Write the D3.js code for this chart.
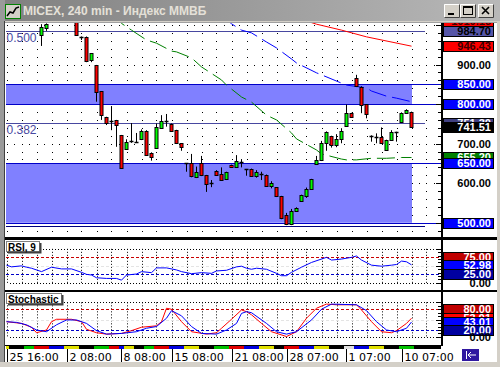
<!DOCTYPE html>
<html>
<head>
<meta charset="utf-8">
<script src="https://cdn.jsdelivr.net/npm/d3@7"></script>
<style>
body { margin: 0; background: #d4d0c8; }
svg { display: block; }
</style>
</head>
<body>
<div class="viz"></div>
<script>
const width = 500;
const height = 367;

// 4h candles, bar 0 = "25 16:00" (first bars sit above the visible range)
const opens  = [1020,1025,1035,1030,1026,1020,1018, 976, 991,1010,1018,1026,1022,1020,1016, 970, 970, 911, 899, 833,
                 767, 757, 760, 722, 688, 707, 704, 712, 733, 677, 691, 740, 757, 750, 734, 701, 650, 650, 616, 650,
                 621, 600, 631, 623, 610, 646, 640, 654, 635, 636, 619, 623, 621, 594, 590, 568, 520, 496, 530, 556,
                 568, 585, 648, 658, 701, 719, 697, 712, 745, 777, 865, 844, 799, 720, 716, 716, 684, 709, 729, 755,
                 777, 780];
const highs  = [1030,1040,1045,1038,1034,1028,1025,1002,1004,1022,1030,1034,1030,1028,1020, 971, 971, 929, 899, 833,
                 768, 795, 760, 722, 711, 752, 727, 736, 734, 678, 751, 772, 775, 751, 735, 701, 651, 674, 642, 669,
                 621, 608, 633, 640, 629, 647, 671, 661, 636, 637, 633, 629, 622, 605, 590, 568, 525, 535, 539, 571,
                 589, 611, 669, 707, 731, 720, 724, 739, 799, 778, 874, 845, 800, 721, 726, 741, 710, 734, 730, 779,
                 787, 781];
const lows   = [1012,1018,1028,1020,1015,1010,1009, 947, 985,1008,1012,1016,1014,1012, 975, 962, 906, 906, 806, 760,
                 747, 734, 692, 636, 684, 702, 702, 709, 672, 657, 690, 739, 743, 731, 699, 682, 629, 615, 613, 618,
                 578, 590, 620, 606, 608, 639, 639, 640, 619, 618, 614, 608, 592, 587, 565, 509, 494, 494, 528, 553,
                 563, 583, 646, 656, 682, 690, 691, 701, 744, 765, 843, 777, 764, 705, 701, 700, 683, 708, 705, 753,
                 776, 740];
const closes = [1025,1035,1030,1026,1020,1018,1015, 996,1002,1018,1026,1022,1020,1016, 976, 970, 909, 928, 831, 772,
                 752, 757, 747, 638, 705, 707, 704, 733, 673, 667, 743, 757, 757, 733, 701, 691, 650, 616, 629, 619,
                 597, 600, 622, 608, 628, 640, 656, 654, 635, 619, 629, 623, 594, 601, 566, 513, 497, 530, 538, 570,
                 585, 610, 659, 702, 730, 697, 712, 732, 777, 767, 844, 799, 774, 720, 716, 701, 709, 730, 729, 777,
                 784, 741.51];

// moving averages, read at a few bars
const maGreenBars = [21, 23, 25, 28, 30, 33, 34, 37, 39, 43, 44, 47, 49, 52, 54, 57, 58, 62, 63, 67, 68, 70, 73, 76, 79, 81];
const maGreenVals = [1030, 1004, 987, 962, 954, 934, 932, 917, 894, 861, 848, 818, 805, 772, 760, 727, 712, 684, 674, 661, 659, 659, 663, 663, 665, 665];
const maBlueBars = [43, 45, 47, 49, 52, 54, 57, 58, 62, 63, 67, 68, 72, 73, 76, 78, 81];
const maBlueVals = [1025, 1003, 987, 980, 957, 942, 914, 904, 879, 874, 853, 848, 841, 833, 820, 815, 806];
const maRedBars = [60, 62, 67, 72, 81];
const maRedVals = [1010, 1002, 987, 970, 946.43];

// indicators
const rsiBars = [0, 1, 3, 4, 5, 7, 9, 11, 13, 15, 16, 17, 18, 20, 22, 23, 24, 26, 27, 29, 30, 32, 34, 35, 37, 39, 41, 42, 44, 46, 47, 48, 49, 50, 52, 54, 55, 56, 57, 59, 61, 64, 65, 67, 69, 70, 71, 73, 75, 77, 78, 79, 80, 81];
const rsiVals = [52, 47, 50, 46, 43, 33, 46, 41, 41, 31, 25, 23, 15, 13, 13, 8, 23, 26, 33, 30, 44, 44, 38, 33, 27, 30, 28, 35, 37, 47, 49, 43, 40, 43, 40, 28, 21, 21, 31, 46, 60, 75, 67, 70, 75, 79, 67, 52, 49, 52, 54, 64, 62, 52.98];
const stochKBars = [0, 3, 5, 6, 8, 9, 10, 13, 15, 16, 18, 20, 23, 25, 27, 30, 31, 32, 33, 35, 37, 40, 42, 43, 45, 47, 48, 49, 51, 53, 56, 58, 60, 62, 64, 66, 70, 71, 73, 75, 77, 78, 80, 81];
const stochKVals = [44, 39, 28, 12, 20, 44, 51, 51, 44, 22, 12, 8, 10, 18, 28, 32, 44, 83, 80, 44, 15, 8, 12, 25, 51, 78, 73, 64, 39, 15, 1, 15, 54, 83, 95, 93, 93, 78, 44, 15, 12, 18, 39, 54];
const stochDBars = [0, 2, 4, 6, 8, 10, 12, 14, 16, 18, 20, 23, 26, 28, 30, 32, 33, 35, 37, 39, 42, 44, 46, 47, 48, 49, 52, 54, 56, 58, 61, 63, 65, 70, 72, 74, 76, 78, 80, 81];
const stochDVals = [44, 42, 35, 20, 15, 35, 49, 49, 39, 18, 8, 10, 15, 25, 30, 54, 76, 61, 30, 10, 8, 20, 39, 68, 73, 70, 39, 15, 8, 15, 49, 80, 95, 93, 76, 44, 20, 15, 25, 43.01];

// time axis
const timeTickBars = [0, 12, 23, 33, 45, 56, 68, 79];
const timeTickLabels = ["25 16:00", "2 08:00", "8 08:00", "15 08:00", "21 08:00", "28 07:00", "1 07:00", "10 07:00"];
const dayStartBars = [0, 1, 4, 6, 9, 12, 15, 18, 21, 23, 24, 26, 28, 30, 33, 36, 39, 42, 45, 48, 51, 54, 56, 59, 62, 65, 68, 70, 73, 76, 79];
const dayColorKeys = ["thu", "fri", "mon", "tue", "wed", "thu", "fri", "mon", "tue", "wed", "thu", "fri", "mon", "tue", "wed", "thu", "fri", "mon", "tue", "wed", "thu", "fri", "tue", "wed", "thu", "fri", "sat", "wed", "thu", "fri", "mon"];

// levels on the price chart
const bandLow = [800, 500];
const bandHigh = [850, 650];
const fibVals = [984.70, 751.30];
const fibNames = ["0.500", "0.382"];
const lowLineVal = 492;
const priceTicks = [600, 700, 900];
const rsiLevels = [25, 50, 75];
const stochLevels = [20, 50, 80];

const svg = d3.select(".viz")
    .append("svg")
    .attr("width", width)
    .attr("height", height);

const sans = "'Liberation Sans', Arial, sans-serif";
const dejavu = "'DejaVu Sans', Verdana, sans-serif";

// scales
const plotL = 6, plotR = 441;
const x = d3.scaleLinear().domain([0, 81]).range([6.5, 411.5]);
const yP = d3.scaleLinear().domain([464, 1005]).range([237, 23]);
const yR = d3.scaleLinear().domain([-21, 126]).range([290, 240]);
const yS = d3.scaleLinear().domain([-23.5, 130]).range([345, 292]);

// window frame + caption
svg.append("rect").attr("width", width).attr("height", height).attr("fill", "#d4d0c8");
const defs = svg.append("defs");
const cap = defs.append("linearGradient").attr("id", "cap");
cap.append("stop").attr("offset", "0%").attr("stop-color", "#808080");
cap.append("stop").attr("offset", "100%").attr("stop-color", "#b8b8b8");
svg.append("rect").attr("x", 0).attr("y", 0).attr("width", width).attr("height", 21).attr("fill", "url(#cap)");
svg.append("rect").attr("x", 0).attr("y", 0).attr("width", 5).attr("height", height).attr("fill", "#9a9a9a");
svg.append("line").attr("x1", 4.5).attr("x2", 4.5).attr("y1", 21).attr("y2", 362).attr("stroke", "#404040");

// caption icon
svg.append("rect").attr("x", 5.5).attr("y", 4.5).attr("width", 15).attr("height", 14).attr("fill", "#d4d0c8").attr("stroke", "#008000");
svg.append("polyline").attr("points", "7,16 10,12 13,13 16,8 19,7").attr("fill", "none").attr("stroke", "#000").attr("stroke-width", 1.5);

svg.append("text").attr("x", 23).attr("y", 15)
    .attr("font-family", sans).attr("font-weight", "bold").attr("font-size", 12)
    .attr("fill", "#e4e0d8")
    .text("MICEX, 240 min - Индекс ММВБ");

// caption buttons
const btnX = [444, 460, 478];
btnX.forEach((bx, k) => {
    const g = svg.append("g").attr("transform", `translate(${bx},4)`);
    g.append("rect").attr("width", 16).attr("height", 14).attr("fill", "#d4d0c8");
    g.append("path").attr("d", "M0.5,13.5 V0.5 H15.5").attr("stroke", "#fff").attr("fill", "none");
    g.append("path").attr("d", "M0.5,13.5 H15.5 V0.5").attr("stroke", "#404040").attr("fill", "none");
    if (k === 0) g.append("rect").attr("x", 4).attr("y", 9).attr("width", 6).attr("height", 2).attr("fill", "#000");
    if (k === 1) {
        g.append("rect").attr("x", 3.5).attr("y", 2.5).attr("width", 9).attr("height", 8).attr("fill", "none").attr("stroke", "#000");
        g.append("rect").attr("x", 3).attr("y", 2).attr("width", 10).attr("height", 2).attr("fill", "#000");
    }
    if (k === 2) g.append("path").attr("d", "M4,3 L11,10 M11,3 L4,10").attr("stroke", "#000").attr("stroke-width", 1.6);
});

// white chart area
svg.append("rect").attr("x", 5).attr("y", 22).attr("width", 492).attr("height", 340).attr("fill", "#fff");
svg.append("line").attr("x1", 5).attr("x2", 497).attr("y1", 22.5).attr("y2", 22.5).attr("stroke", "#a0a0a0");

// clips
[["clipP", 23, 237], ["clipR", 240, 290], ["clipS", 292, 345]].forEach(([id, t, b]) => {
    defs.append("clipPath").attr("id", id).append("rect")
        .attr("x", plotL).attr("y", t).attr("width", plotR - plotL).attr("height", b - t);
});
defs.append("clipPath").attr("id", "clipAxP").append("rect").attr("x", 443).attr("y", 23).attr("width", 54).attr("height", 214);

const gridBars = d3.range(0, 88, 3);
const gridX = gridBars.map(b => Math.round(x(b)) + 0.5);

// ---------- price panel ----------
const gP = svg.append("g").attr("clip-path", "url(#clipP)");

// dotted grid: one dot per grid column on each 20-point row, denser on the 100s
d3.range(480, 1001, 20).forEach(v => {
    const yy = Math.round(yP(v));
    const cols = v % 100 === 0
        ? d3.range(0, 88, 1.5).map(b => Math.round(x(b)))
        : gridX.map(gx => gx - 0.5);
    gP.selectAll(null).data(cols).enter().append("rect")
        .attr("x", d => d).attr("y", yy).attr("width", 1).attr("height", 1).attr("fill", "#000");
});

// blue bands
bandLow.forEach((lo, k) => {
    gP.append("rect").attr("x", plotL).attr("width", 412 - plotL)
        .attr("y", yP(bandHigh[k])).attr("height", yP(lo) - yP(bandHigh[k]))
        .attr("fill", "#8080ff");
    [lo, bandHigh[k]].forEach(v => {
        gP.append("line").attr("x1", plotL).attr("x2", plotR)
            .attr("y1", Math.round(yP(v)) + 0.5).attr("y2", Math.round(yP(v)) + 0.5)
            .attr("stroke", "#0000c8");
    });
});

// fibonacci lines + names
fibVals.forEach((v, k) => {
    const yy = Math.round(yP(v)) + 0.5;
    gP.append("line").attr("x1", plotL).attr("x2", 425).attr("y1", yy).attr("y2", yy).attr("stroke", "#4848a0");
    gP.append("text").attr("x", plotL + 0.5).attr("y", yy + 10)
        .attr("font-family", sans).attr("font-size", 12).attr("fill", "#4848a0")
        .text(fibNames[k]);
});
gP.append("line").attr("x1", plotL).attr("x2", 425)
    .attr("y1", Math.round(yP(lowLineVal)) + 0.5).attr("y2", Math.round(yP(lowLineVal)) + 0.5)
    .attr("stroke", "#000080");

// moving averages
const maLine = (bars, ys) => d3.line().x((d, i) => x(bars[i])).y(d => ys(d));
gP.append("path").datum(maGreenVals).attr("d", maLine(maGreenBars, yP))
    .attr("fill", "none").attr("stroke", "#008000").attr("stroke-dasharray", "18,6");
gP.append("path").datum(maBlueVals).attr("d", maLine(maBlueBars, yP))
    .attr("fill", "none").attr("stroke", "#0000ff").attr("stroke-dasharray", "18,6");
gP.append("path").datum(maRedVals).attr("d", maLine(maRedBars, yP))
    .attr("fill", "none").attr("stroke", "#ff0000");

// candles
const candles = opens.map((o, i) => ({ i, o, h: highs[i], l: lows[i], c: closes[i] }));
gP.selectAll(".wick").data(candles).enter().append("line")
    .attr("class", "wick")
    .attr("x1", d => x(d.i)).attr("x2", d => x(d.i))
    .attr("y1", d => yP(d.h)).attr("y2", d => yP(d.l))
    .attr("stroke", "#000");
gP.selectAll(".body").data(candles.filter(d => Math.abs(yP(d.o) - yP(d.c)) >= 1.5)).enter().append("rect")
    .attr("class", "body")
    .attr("x", d => x(d.i) - 1.5).attr("width", 3)
    .attr("y", d => Math.round(yP(Math.max(d.o, d.c))) + 0.5)
    .attr("height", d => Math.max(1, Math.round(Math.abs(yP(d.o) - yP(d.c)))))
    .attr("fill", d => d.c > d.o ? "#00ff00" : "#ff0000")
    .attr("stroke", "#000");
gP.selectAll(".doji").data(candles.filter(d => Math.abs(yP(d.o) - yP(d.c)) < 1.5)).enter().append("line")
    .attr("class", "doji")
    .attr("x1", d => x(d.i) - 2).attr("x2", d => x(d.i) + 2)
    .attr("y1", d => Math.round(yP(d.c)) + 0.5).attr("y2", d => Math.round(yP(d.c)) + 0.5)
    .attr("stroke", "#000").attr("stroke-width", 1.5);

// ---------- indicator panels ----------
function indicatorPanel(clipId, ys, levels) {
    const g = svg.append("g").attr("clip-path", `url(#${clipId})`);
    gridX.forEach(gx => {
        g.append("line").attr("x1", gx).attr("x2", gx).attr("y1", ys(100)).attr("y2", ys(0))
            .attr("stroke", "#000").attr("stroke-dasharray", "1,2");
    });
    [0, 100].forEach(v => {
        g.append("line").attr("x1", plotL + 4).attr("x2", plotR)
            .attr("y1", Math.round(ys(v)) + 0.5).attr("y2", Math.round(ys(v)) + 0.5)
            .attr("stroke", "#000").attr("stroke-dasharray", "1,2");
    });
    const lvlColor = ["#0000c8", "#e4e4e4", "#c80000"];
    levels.forEach((v, k) => {
        g.append("line").attr("x1", plotL).attr("x2", plotR)
            .attr("y1", Math.round(ys(v)) + 0.5).attr("y2", Math.round(ys(v)) + 0.5)
            .attr("stroke", lvlColor[k]).attr("stroke-dasharray", "3,2");
    });
    return g;
}

const gR = indicatorPanel("clipR", yR, rsiLevels);
gR.append("path").datum(rsiVals).attr("d", maLine(rsiBars, yR))
    .attr("fill", "none").attr("stroke", "#0000ff");

const gS = indicatorPanel("clipS", yS, stochLevels);
gS.append("path").datum(stochKVals).attr("d", maLine(stochKBars, yS))
    .attr("fill", "none").attr("stroke", "#ff0000");
gS.append("path").datum(stochDVals).attr("d", maLine(stochDBars, yS))
    .attr("fill", "none").attr("stroke", "#0000ff");

// panel captions
[["RSI, 9", 241, 33], ["Stochastic", 293, 55]].forEach(([t, yy, w]) => {
    svg.append("rect").attr("x", 6.5).attr("y", yy + 0.5).attr("width", w).attr("height", 10)
        .attr("fill", "#fff").attr("stroke", "#808080");
    svg.append("path").attr("d", `M${7.5 + w},${yy + 2} V${yy + 11.5} H8`).attr("stroke", "#404040").attr("stroke-width", 2).attr("fill", "none");
    svg.append("text").attr("x", 8).attr("y", yy + 9.5)
        .attr("font-family", sans).attr("font-weight", "bold").attr("font-size", 10).attr("fill", "#000")
        .text(t);
});

// panel dividers
svg.append("rect").attr("x", 5).attr("y", 237).attr("width", 492).attr("height", 3).attr("fill", "#000");
svg.append("rect").attr("x", 5).attr("y", 290).attr("width", 492).attr("height", 2).attr("fill", "#000");
svg.append("rect").attr("x", 441).attr("y", 23).attr("width", 2).attr("height", 323).attr("fill", "#000");
svg.append("line").attr("x1", 5).attr("x2", 443).attr("y1", 345.5).attr("y2", 345.5).attr("stroke", "#000");

// ---------- right axis ----------
const axisG = svg.append("g");
function ticks(ys, from, to, step, major) {
    d3.range(from, to + 0.01, step).forEach(v => {
        const yy = Math.round(ys(v)) + 0.5;
        const len = v % major === 0 ? 5 : 3;
        axisG.append("line").attr("x1", 441 - len).attr("x2", 441).attr("y1", yy).attr("y2", yy).attr("stroke", "#000");
    });
}
ticks(yP, 480, 1000, 20, 100);
ticks(yR, 0, 100, 10, 50);
ticks(yS, 0, 100, 10, 50);

function tag(yy, txt, fill, color, clipId) {
    const g = axisG.append("g");
    if (clipId) g.attr("clip-path", `url(#${clipId})`);
    if (fill) {
        g.append("rect").attr("x", 443.5).attr("y", Math.round(yy) - 4.5).attr("width", 50).attr("height", 10)
            .attr("fill", fill).attr("stroke", "#000");
    }
    g.append("text").attr("x", 491).attr("y", Math.round(yy) + 4).attr("text-anchor", "end")
        .attr("font-family", sans).attr("font-weight", "bold").attr("font-size", 11)
        .attr("fill", color).text(txt);
}

priceTicks.forEach(v => tag(yP(v), v.toFixed(2), null, "#000"));
tag(yP(1010.15), "1010.15", "#ff0000", "#400000", "clipAxP");
tag(yP(fibVals[0]), fibVals[0].toFixed(2), "#5656a8", "#000", "clipAxP");
tag(yP(maRedVals[maRedVals.length - 1]), "946.43", "#ff0000", "#400000");
tag(yP(bandHigh[0]), bandHigh[0].toFixed(2), "#0000ff", "#fff");
tag(yP(bandLow[0]), bandLow[0].toFixed(2), "#0000ff", "#fff");
tag(yP(fibVals[1]), fibVals[1].toFixed(2), "#404080", "#fff");
tag(yP(closes[closes.length - 1]), closes[closes.length - 1].toFixed(2), "#000", "#fff");
tag(yP(maGreenVals[maGreenVals.length - 1]), "655.20", "#008000", "#fff");
tag(yP(bandHigh[1]), bandHigh[1].toFixed(2), "#0000ff", "#fff");
tag(yP(bandLow[1]), bandLow[1].toFixed(2), "#0000ff", "#fff");

tag(yR(75), "75.00", "#c00000", "#fff");
tag(yR(rsiVals[rsiVals.length - 1]), "52.98", "#0000ff", "#fff");
tag(yR(25), "25.00", "#0000a0", "#fff");
tag(yR(0), "0.00", null, "#000");

tag(yS(80), "80.00", "#c00000", "#fff");
tag(yS(stochKVals[stochKVals.length - 1]), "53.91", "#ff0000", "#fff");
tag(yS(stochDVals[stochDVals.length - 1]), "43.01", "#0000ff", "#fff");
tag(yS(20), "20.00", "#0000a0", "#fff");
tag(yS(0), "0.00", null, "#000");

// ---------- time axis ----------
const dayColor = { mon: "#00c000", tue: "#e00000", wed: "#0000e0", thu: "#e0e000", fri: "#000", sat: "#e0e0e0" };
dayStartBars.forEach((b, k) => {
    const x0 = Math.max(plotL, x(b) - 2.5);
    const x1 = k + 1 < dayStartBars.length ? x(dayStartBars[k + 1]) - 2.5 : x(81) + 2.5;
    svg.append("rect").attr("x", x0).attr("y", 346).attr("width", x1 - x0).attr("height", 3)
        .attr("fill", dayColor[dayColorKeys[k]]);
});
svg.append("rect").attr("x", x(81) + 2.5).attr("y", 346).attr("width", plotR - x(81) - 2.5).attr("height", 3).attr("fill", "#000");

timeTickBars.forEach((b, k) => {
    const tx = Math.round(x(b)) + 0.5;
    svg.append("line").attr("x1", tx).attr("x2", tx).attr("y1", 349).attr("y2", 362).attr("stroke", "#000");
    svg.append("text").attr("x", tx + 2).attr("y", 360.5)
        .attr("font-family", dejavu).attr("font-size", 11).attr("fill", "#000")
        .text(timeTickLabels[k]);
});

// scroll-to-end button
svg.append("rect").attr("x", 462).attr("y", 349).attr("width", 17).attr("height", 12).attr("fill", "#3018a0");
svg.append("path").attr("d", "M466.5,351 V359 M476,355 H468 M471,352 L468,355 L471,358")
    .attr("stroke", "#fff").attr("fill", "none");

// bottom / right frame
svg.append("rect").attr("x", 0).attr("y", 362).attr("width", width).attr("height", 5).attr("fill", "#d4d0c8");
svg.append("rect").attr("x", 497).attr("y", 21).attr("width", 3).attr("height", 346).attr("fill", "#d4d0c8");
</script>
</body>
</html>
